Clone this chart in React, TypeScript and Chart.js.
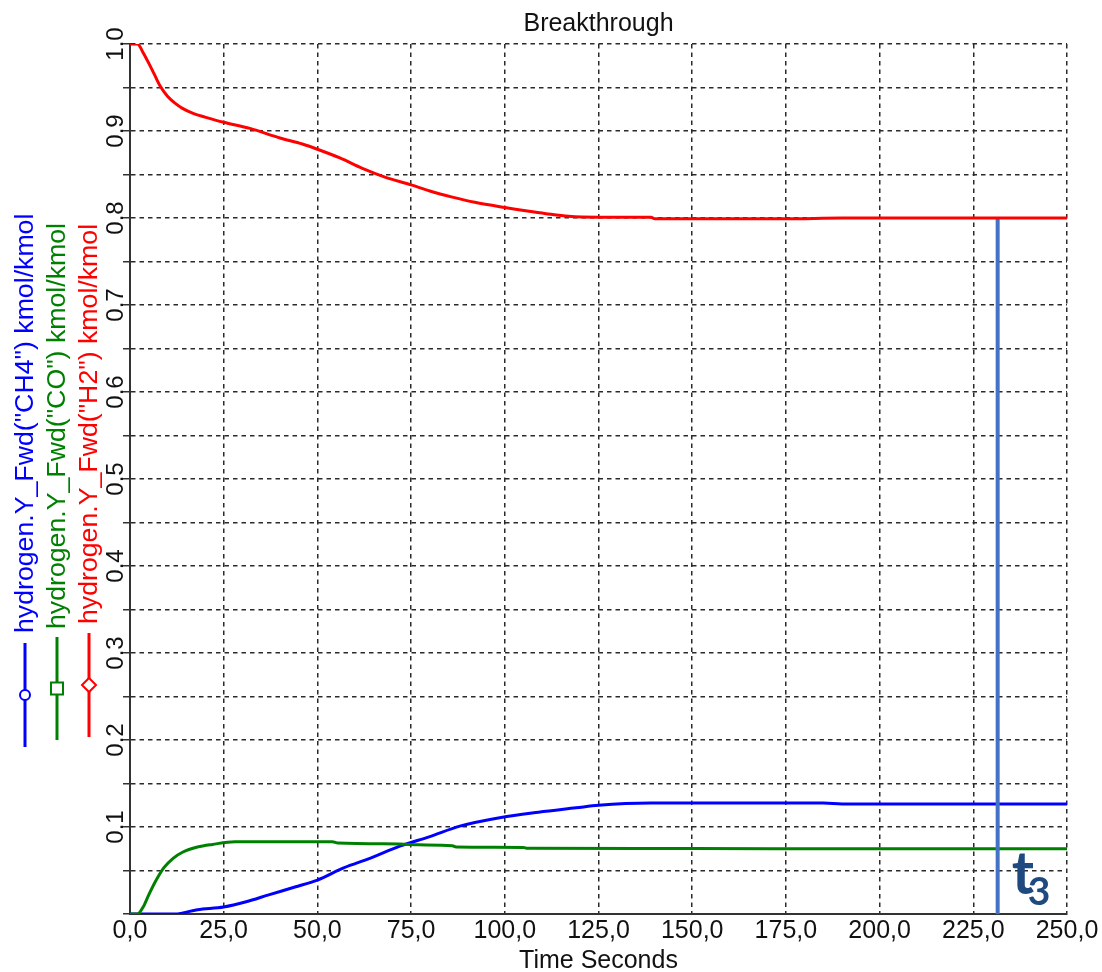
import React, { useEffect, useRef } from 'react';
import { Chart, registerables } from 'chart.js';

Chart.register(...registerables);

const FONT = "'Liberation Sans', Arial, sans-serif";

// ---- data ----
const h2Time = [0, 2, 3.5, 5, 6.5, 8, 10, 12, 14, 17, 20, 25, 32, 40, 46, 50, 56, 62, 68, 75, 80, 86, 92, 100, 106, 111, 117, 125, 139, 140, 150, 165, 175, 190, 210, 230, 250];
const h2Values = [1.0, 1.0, 0.99, 0.978, 0.965, 0.952, 0.94, 0.932, 0.926, 0.92, 0.916, 0.91, 0.903, 0.892, 0.885, 0.879, 0.869, 0.857, 0.847, 0.838, 0.831, 0.824, 0.818, 0.812, 0.808, 0.805, 0.802, 0.801, 0.801, 0.799, 0.799, 0.799, 0.799, 0.8, 0.8, 0.8, 0.8];

const coTime = [0, 2, 3.5, 5, 7, 9, 11.5, 14, 18, 22, 28, 40, 54, 55.5, 72, 77, 86, 87, 105, 106, 150, 200, 250];
const coValues = [0, 0, 0.008, 0.022, 0.039, 0.053, 0.064, 0.071, 0.077, 0.08, 0.083, 0.083, 0.083, 0.0815, 0.0805, 0.0795, 0.0785, 0.077, 0.0765, 0.0755, 0.0752, 0.075, 0.075];

const ch4Time = [0, 12, 18, 25, 31, 37, 44, 50, 57, 64, 72, 80, 88, 99, 109, 119, 125, 139, 150, 185, 190, 250];
const ch4Values = [0, 0, 0.005, 0.008, 0.014, 0.022, 0.031, 0.039, 0.053, 0.064, 0.078, 0.089, 0.101, 0.111, 0.117, 0.122, 0.125, 0.1275, 0.1275, 0.1275, 0.1265, 0.1265];

const t3Time = 231.5;
const t3Range = [0, 0.8];

const xTickLabels = ['0,0', '25,0', '50,0', '75,0', '100,0', '125,0', '150,0', '175,0', '200,0', '225,0', '250,0'];
const yTickLabels = ['0.1', '0.2', '0.3', '0.4', '0.5', '0.6', '0.7', '0.8', '0.9', '1.0'];

const legendLabels = [
  'hydrogen.Y_Fwd("CH4") kmol/kmol',
  'hydrogen.Y_Fwd("CO") kmol/kmol',
  'hydrogen.Y_Fwd("H2") kmol/kmol',
];

const chartTitle = 'Breakthrough';
const xAxisTitle = 'Time Seconds';
const annotationMain = 't';
const annotationSub = '3';

const BLUE = '#0000FF';
const GREEN = '#008000';
const RED = '#FF0000';

const toPoints = (xs: number[], ys: number[]) => xs.map((x, i) => ({ x, y: ys[i] }));

const legendPlugin = {
  id: 'rotatedLegend',
  afterDraw(chart: any) {
    const ctx = chart.ctx;
    const entries = [
      { label: legendLabels[0], color: BLUE, marker: 'circle', x: 25, lineBottom: 747, lineTop: 643, textStart: 633 },
      { label: legendLabels[1], color: GREEN, marker: 'square', x: 57, lineBottom: 740, lineTop: 637, textStart: 629 },
      { label: legendLabels[2], color: RED, marker: 'diamond', x: 89, lineBottom: 737, lineTop: 633, textStart: 624 },
    ];
    entries.forEach((e) => {
      ctx.save();
      ctx.strokeStyle = e.color;
      ctx.lineWidth = 3;
      ctx.beginPath();
      ctx.moveTo(e.x, e.lineBottom);
      ctx.lineTo(e.x, e.lineTop);
      ctx.stroke();
      const my = (e.lineBottom + e.lineTop) / 2;
      ctx.fillStyle = '#ffffff';
      ctx.lineWidth = 2;
      ctx.beginPath();
      if (e.marker === 'circle') {
        ctx.arc(e.x, my, 5, 0, Math.PI * 2);
      } else if (e.marker === 'square') {
        ctx.rect(e.x - 6, my - 6, 12, 12);
      } else {
        ctx.moveTo(e.x, my - 7);
        ctx.lineTo(e.x + 7, my);
        ctx.lineTo(e.x, my + 7);
        ctx.lineTo(e.x - 7, my);
        ctx.closePath();
      }
      ctx.fill();
      ctx.stroke();
      ctx.translate(e.x + 8, e.textStart);
      ctx.rotate(-Math.PI / 2);
      ctx.font = `26.7px ${FONT}`;
      ctx.fillStyle = e.color;
      ctx.textAlign = 'left';
      ctx.textBaseline = 'alphabetic';
      ctx.fillText(e.label, 0, 0);
      ctx.restore();
    });
  },
};

const annotationPlugin = {
  id: 't3Label',
  afterDatasetsDraw(chart: any) {
    const ctx = chart.ctx;
    const xs = chart.scales.x;
    const ys = chart.scales.y;
    const px = xs.getPixelForValue(t3Time);
    const base = ys.getPixelForValue(0);
    ctx.save();
    ctx.fillStyle = '#1F4A7F';
    ctx.textAlign = 'left';
    ctx.textBaseline = 'alphabetic';
    ctx.font = `bold 60px Lato, 'Open Sans', sans-serif`;
    ctx.fillText(annotationMain, px + 14, base - 20);
    ctx.font = `bold 39px Lato, 'Open Sans', sans-serif`;
    ctx.fillText(annotationSub, px + 30, base - 9);
    ctx.restore();
  },
};

export default function App() {
  const canvasRef = useRef<HTMLCanvasElement | null>(null);

  useEffect(() => {
    if (!canvasRef.current) return;
    const chart = new Chart(canvasRef.current, {
      type: 'line',
      data: {
        datasets: [
          {
            label: legendLabels[2],
            data: toPoints(h2Time, h2Values),
            borderColor: RED,
            borderWidth: 3,
            pointRadius: 0,
            cubicInterpolationMode: 'monotone',
            fill: false,
          },
          {
            label: 't3',
            data: toPoints([t3Time, t3Time], t3Range),
            borderColor: '#4472C4',
            borderWidth: 4,
            pointRadius: 0,
            fill: false,
          },
          {
            label: legendLabels[1],
            data: toPoints(coTime, coValues),
            borderColor: GREEN,
            borderWidth: 3,
            pointRadius: 0,
            cubicInterpolationMode: 'monotone',
            fill: false,
          },
          {
            label: legendLabels[0],
            data: toPoints(ch4Time, ch4Values),
            borderColor: BLUE,
            borderWidth: 3,
            pointRadius: 0,
            cubicInterpolationMode: 'monotone',
            fill: false,
          },
        ],
      },
      options: {
        animation: false,
        responsive: true,
        maintainAspectRatio: false,
        layout: { padding: { left: 0, right: 35, top: 0, bottom: 0 } },
        plugins: {
          legend: { display: false },
          tooltip: { enabled: false },
          title: {
            display: true,
            fullSize: false,
            text: chartTitle,
            color: '#111',
            font: { family: FONT, size: 25, weight: 'normal' },
            padding: { top: 9, bottom: 5 },
          },
        },
        scales: {
          x: {
            type: 'linear',
            min: 0,
            max: 250,
            afterFit: (s: any) => { s.height = 58; },
            ticks: {
              stepSize: 25,
              autoSkip: false,
              maxRotation: 0,
              minRotation: 0,
              padding: 2,
              color: '#111',
              font: { family: FONT, size: 25 },
              callback: (_v: any, i: number) => xTickLabels[i],
            },
            grid: {
              color: '#2a2a2a',
              lineWidth: 1.5,
              drawTicks: false,
            },
            border: { display: true, color: '#333', width: 2, dash: [4.5, 4] },
            title: {
              display: true,
              text: xAxisTitle,
              color: '#111',
              font: { family: FONT, size: 25, lineHeight: 1.2 },
              padding: { top: 0, bottom: -4 },
            },
          },
          y: {
            type: 'linear',
            min: 0,
            max: 1,
            afterFit: (s: any) => { s.width = 130; },
            ticks: {
              stepSize: 0.05,
              autoSkip: false,
              minRotation: 90,
              maxRotation: 90,
              crossAlign: 'center',
              padding: -9.7,
              color: '#111',
              font: { family: FONT, size: 24 },
              callback: (v: any) => {
                const k = Math.round(Number(v) * 100);
                if (k === 0 || k % 10 !== 0) return '';
                return yTickLabels[k / 10 - 1];
              },
            },
            grid: {
              color: '#2a2a2a',
              lineWidth: 1.5,
              drawTicks: true,
              tickLength: 7,
              tickColor: '#333',
              tickWidth: 1.5,
            },
            border: { display: true, color: '#333', width: 2, dash: [4.5, 4] },
          },
        },
      },
      plugins: [legendPlugin, annotationPlugin],
    } as any);
    return () => chart.destroy();
  }, []);

  return (
    <div style={{ position: 'absolute', left: 0, top: 0, width: 1102, height: 972 }}>
      <canvas ref={canvasRef} />
    </div>
  );
}
